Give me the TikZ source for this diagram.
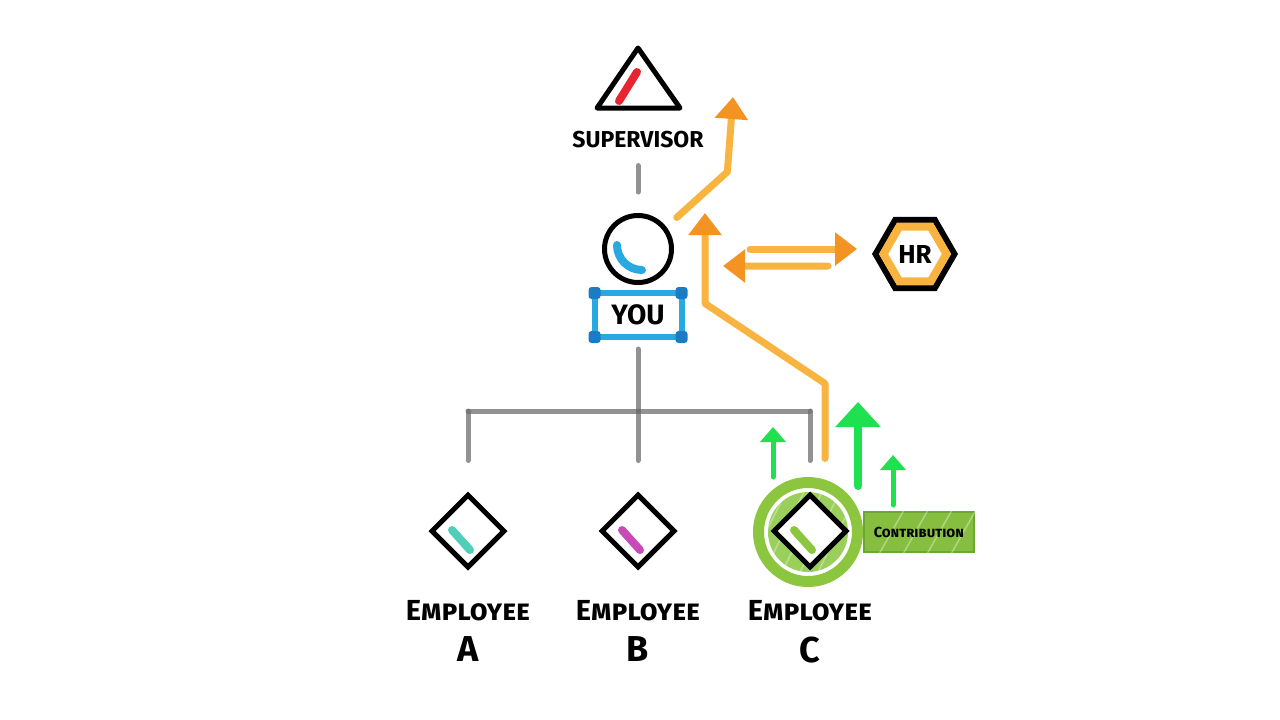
\documentclass[tikz,border=0pt]{standalone}
\usepackage{fontspec}
\setmainfont{Fira Sans}
\usepackage{tikz}
\usetikzlibrary{shapes.geometric, arrows.meta, positioning}

\definecolor{lineorange}{HTML}{F9B33F}
\definecolor{tiporange}{HTML}{F39322}
\definecolor{linegray}{HTML}{6E6E6E}
\definecolor{youblue}{HTML}{29A9E1}
\definecolor{cornerblue}{HTML}{1B7CC4}
\definecolor{supred}{HTML}{E82430}
\definecolor{markteal}{HTML}{4FCFB8}
\definecolor{markpink}{HTML}{C84AB8}
\definecolor{ringgreen}{HTML}{8CC63F}
\definecolor{discgreen}{HTML}{9BCF5C}
\definecolor{boxgreen}{HTML}{86BF40}
\definecolor{boxedge}{HTML}{6BA832}
\definecolor{arrowgreen}{HTML}{1FE04E}

\tikzstyle{grayline} = [line width=5pt, draw=linegray, opacity=0.75, line cap=round]
\tikzstyle{orangearrow} = [line width=7pt, draw=lineorange, line cap=round, line join=round, -{Triangle[length=22pt,width=32pt,color=tiporange]}]
\tikzstyle{greenarrow} = [line width=5pt, draw=arrowgreen, line cap=round, -{Triangle[length=15pt,width=25pt,color=arrowgreen]}]
\tikzstyle{biggreenarrow} = [greenarrow, line width=8pt, -{Triangle[length=25pt,width=44pt,color=arrowgreen]}]
\tikzstyle{diagstroke} = [line width=8pt, line cap=round]
\tikzstyle{hatch} = [white, opacity=0.35, line width=1.5pt]
\tikzstyle{labeltext} = [inner sep=0pt, font=\bfseries]
\tikzstyle{employee} = [diamond, aspect=1, draw=black, line width=5pt, fill=white, inner sep=0pt, minimum width=74pt, minimum height=74pt]
\tikzstyle{youcircle} = [circle, draw=black, line width=5pt, fill=white, minimum size=67pt, inner sep=0pt]
\tikzstyle{youlabel} = [rectangle, draw=youblue, line width=6pt, minimum width=87pt, minimum height=44pt, inner sep=0pt, outer sep=0pt, font=\fontsize{28}{30}\selectfont\bfseries]
\tikzstyle{hrhex} = [regular polygon, regular polygon sides=6, draw=black, line width=6pt, fill=white, minimum size=79pt, inner sep=0pt, font=\fontsize{26}{28}\selectfont\bfseries]
\tikzstyle{hrring} = [regular polygon, regular polygon sides=6, draw=lineorange, line width=8pt, minimum size=63pt, inner sep=0pt]
\tikzstyle{glowring} = [circle, draw=ringgreen, line width=11pt, fill=white, minimum size=99pt, inner sep=0pt]
\tikzstyle{contribbox} = [rectangle, draw=boxedge, line width=2pt, fill=boxgreen, minimum width=110pt, minimum height=40pt, font=\fontsize{14.5}{16}\selectfont\bfseries]

\begin{document}
\begin{tikzpicture}[x=1pt, y=-1pt]
\fill[white] (0,0) rectangle (1280,720);
\useasboundingbox (0,0) rectangle (1280,720);

\draw[line width=5pt, line join=round, fill=white] (597,108) -- (680,108) -- (638,48) -- cycle;
\draw[diagstroke, supred] (619,101) -- (637,72);
\node (suplabel) at (638,140) [labeltext, font=\fontsize{23}{25}\selectfont\bfseries] {SUPERVISOR};

\node (you) at (638,249) [youcircle] {};
\draw[diagstroke, youblue] ([shift={(-21,-4)}]you.center) arc[start angle=180, end angle=90, radius=25];
\node (youbox) at (638,315) [youlabel] {YOU};
\foreach \c in {north west, north east, south west, south east}
  \fill[cornerblue, rounded corners=3pt] (youbox.\c) ++(-6,-6) rectangle ++(12,12);

\node (hr) at (915,254) [hrhex] {HR};
\node at (hr) [hrring] {};

\node (ring) at (808,532) [glowring] {};
\fill[discgreen] (ring.center) circle[radius=40pt];
\begin{scope}
  \clip (ring.center) circle[radius=40pt];
  \foreach \x in {-60,-42,...,60}
    \draw[hatch] ([shift={(\x-20,40)}]ring.center) -- ++(40,-80);
\end{scope}
\node (contrib) [contribbox, right=0pt of ring] {};
\begin{scope}
  \clip (contrib.south west) rectangle (contrib.north east);
  \foreach \x in {-40,-16,...,80}
    \draw[hatch] ([shift={(\x,22)}]contrib.center) -- ++(25,-44);
\end{scope}
\node at (contrib) [labeltext, font=\fontsize{14.5}{16}\selectfont\bfseries] {\textsc{Contribution}};

\node (empA) at (468,531) [employee] {};
\node (empB) at (638,531) [employee] {};
\node (empC) at (810,531) [employee] {};
\foreach \e/\c in {empA/markteal, empB/markpink, empC/ringgreen}
  \draw[diagstroke, \c] ([shift={(-16,-1)}]\e.center) -- ([shift={(2,19)}]\e.center);

\foreach \e/\l in {empA/A, empB/B, empC/C} {
  \node (lab\l) [labeltext, font=\fontsize{29}{31}\selectfont\bfseries, below=30pt of \e] {\textsc{Employee}};
  \node (let\l) [labeltext, font=\fontsize{36}{38}\selectfont\bfseries, below=15pt of lab\l] {\l};
}

\draw[grayline, shorten <=17pt, shorten >=21pt] (suplabel) -- (you);
\coordinate (bus) at (638,411);
\draw[grayline, shorten <=12pt] (youbox) -- (bus);
\draw[grayline] (empA |- bus) -- (empC |- bus);
\foreach \e in {empA, empB, empC}
  \draw[grayline, shorten >=31pt] (\e |- bus) -- (\e);

\coordinate (supout) at (733,97);
\draw[orangearrow, shorten <=14pt] (you.38) -- ++(61,-55) -- (supout);
\coordinate (youin) at (705,213);
\draw[orangearrow] ([shift={(15,-33)}]empC.north) -- ++(0,-75) -- ++(-120,-80) -- (youin);
\draw[orangearrow] ([shift={(-122,-5)}]hr.west) -- ([shift={(-15,-5)}]hr.west);
\coordinate (youside) at (723,266);
\draw[orangearrow] ([shift={(-44,12)}]hr.west) -- (youside);

\draw[greenarrow] ([xshift=-35pt]ring.north) -- ++(0,-50);
\draw[biggreenarrow] ([shift={(50,9)}]ring.north) -- ++(0,-84);
\draw[greenarrow] ([shift={(85,28)}]ring.north) -- ++(0,-50);

\end{tikzpicture}
\end{document}
